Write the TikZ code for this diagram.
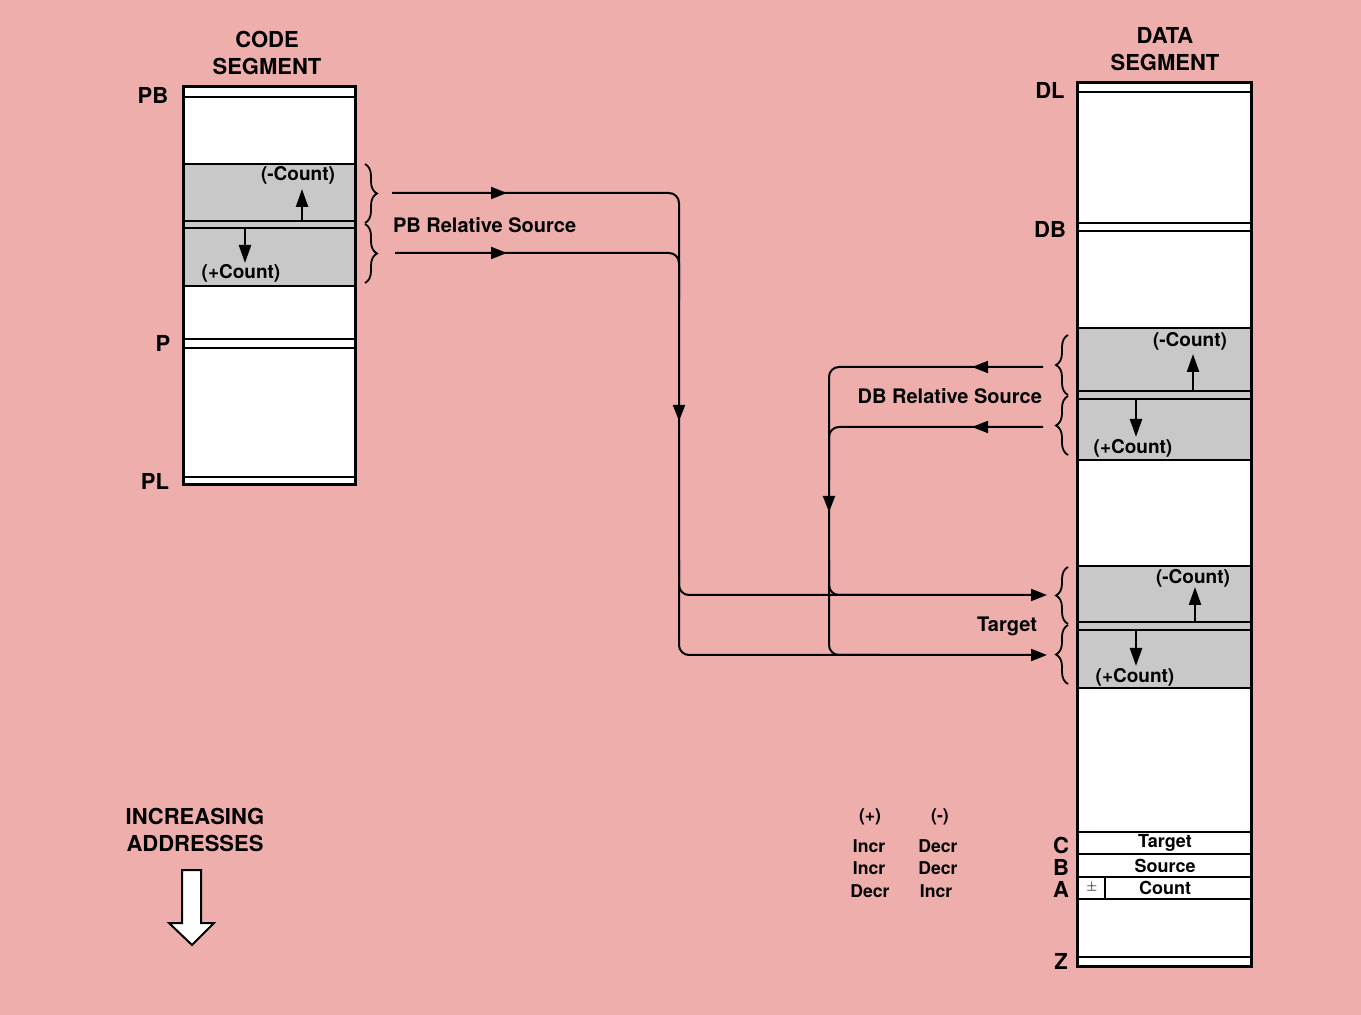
\documentclass[tikz,border=0pt]{standalone}
\usepackage{fontspec}
\setmainfont{TeX Gyre Heros}
\usepackage{tikz}
\usetikzlibrary{arrows.meta,decorations.pathreplacing}
\definecolor{pagepink}{RGB}{238,175,172}
\definecolor{areagray}{RGB}{200,200,200}

\begin{document}
\begin{tikzpicture}[x=0.5pt,y=-0.5pt,>=Triangle,
  segbox/.style={draw,line width=1.5pt,fill=white},
  sepline/.style={line width=0.9pt},
  flow/.style={line width=1pt,rounded corners=5pt},
  tip/.style={-{Triangle[length=8pt,width=6pt]}},
  smalltip/.style={line width=1.2pt,-{Triangle[length=9pt,width=6pt]}},
  brc/.style={decorate,decoration={brace,amplitude=6pt},line width=0.9pt},
  head/.style={font=\bfseries\fontsize{11}{13.5}\selectfont,align=center},
  addr/.style={font=\bfseries\fontsize{11}{13}\selectfont},
  note/.style={font=\bfseries\fontsize{10}{12}\selectfont},
  cnt/.style={font=\bfseries\fontsize{9.5}{11}\selectfont},
  tbl/.style={font=\bfseries\fontsize{8.8}{10}\selectfont},
  row/.style={font=\bfseries\fontsize{9}{10}\selectfont}]
\useasboundingbox (0,0) rectangle (1361,1015);
\fill[pagepink] (0,0) rectangle (1361,1015);

% code segment
\node[head] (codehead) at (267,53) {CODE\\SEGMENT};
\draw[segbox] (183,87) rectangle (355,485);
\fill[areagray] (183,164) rectangle (355,286);
\foreach \y in {97,164,221,228,286,339,348,477}
  \draw[sepline] (183,\y) -- (355,\y);
\draw[segbox,fill=none] (183,87) rectangle (355,485);
\node[addr] (pb) at (153,95) {PB};
\node[addr] (p) at (163,343) {P};
\node[addr] (pl) at (155,481) {PL};
\draw[smalltip] (302,221) -- (302,189);
\draw[smalltip] (245,228) -- (245,263);
\node[cnt] (pbminus) at (298,175) {(-Count)};
\node[cnt] (pbplus) at (241,273) {(+Count)};
\draw[brc] (365,164) -- (365,223);
\draw[brc] (365,224) -- (365,283);

% data segment
\node[head] (datahead) at (1165,49) {DATA\\SEGMENT};
\draw[segbox] (1077,83) rectangle (1251,966);
\fill[areagray] (1077,328) rectangle (1251,460);
\fill[areagray] (1077,566) rectangle (1251,688);
\foreach \y in {92,223,231,328,391,399,460,566,622,630,688,832,854,877,899,957}
  \draw[sepline] (1077,\y) -- (1251,\y);
\draw[sepline] (1105,877) -- (1105,899);
\draw[segbox,fill=none] (1077,83) rectangle (1251,966);
\node[addr] (dl) at (1050,90) {DL};
\node[addr] (db) at (1050,229) {DB};
\node[addr] (regc) at (1061,845) {C};
\node[addr] (regb) at (1061,867) {B};
\node[addr] (rega) at (1061,889) {A};
\node[addr] (regz) at (1061,961) {Z};
\node[row] (ctarget) at (1165,843) {Target};
\node[row] (bsource) at (1165,866) {Source};
\node[row] (acount) at (1165,888) {Count};
\node[font=\fontsize{6}{7}\selectfont] (asign) at (1092,888) {$\pm$};

\draw[smalltip] (1193,391) -- (1193,354);
\draw[smalltip] (1136,399) -- (1136,437);
\node[cnt] (dbminus) at (1190,341) {(-Count)};
\node[cnt] (dbplus) at (1133,448) {(+Count)};
\draw[smalltip] (1195,622) -- (1195,587);
\draw[smalltip] (1136,630) -- (1136,666);
\node[cnt] (tgminus) at (1193,578) {(-Count)};
\node[cnt] (tgplus) at (1135,677) {(+Count)};
\draw[brc] (1068,395) -- (1068,335);
\draw[brc] (1068,455) -- (1068,396);
\draw[brc] (1068,624) -- (1068,567);
\draw[brc] (1068,684) -- (1068,625);

% flow lines
\coordinate (pbsrc1) at (392,193);
\coordinate (pbsrc2) at (395,253);
\coordinate (dbsrc1) at (1043,367);
\coordinate (dbsrc2) at (1043,427);
\coordinate (tgt1) at (1047,595);
\coordinate (tgt2) at (1047,655);
\node[note,anchor=west] (pbrel) at (386,225) {PB Relative Source};
\node[note,anchor=east] (dbrel) at (1049,396) {DB Relative Source};
\node[note,anchor=east] (tgtlbl) at (1044,626) {Target};

\draw[flow,tip] (pbsrc1) -- (679,193) -- (679,655) -- (tgt2);
\draw[flow] (pbsrc2) -- (679,253) -- (679,300);
\draw[flow,tip] (679,560) -- (679,595) -- (tgt1);
\draw[flow] (dbsrc1) -- (829,367) -- (829,655) -- (880,655);
\draw[flow] (dbsrc2) -- (829,427) -- (829,480);
\draw[flow] (829,560) -- (829,595) -- (880,595);
\draw[flow,tip] (pbsrc1) -- (507,193);
\draw[flow,tip] (pbsrc2) -- (507,253);
\draw[flow,tip] (dbsrc1) -- (972,367);
\draw[flow,tip] (dbsrc2) -- (972,427);
\draw[flow,tip] (679,380) -- (679,421);
\draw[flow,tip] (829,470) -- (829,512);

% direction table
\node[tbl] (colplus) at (870,817) {(+)};
\node[tbl] (colminus) at (940,817) {(-)};
\node[tbl] (t1) at (869,846) {Incr};
\node[tbl] (t2) at (938,846) {Decr};
\node[tbl] (t3) at (869,868) {Incr};
\node[tbl] (t4) at (938,868) {Decr};
\node[tbl] (t5) at (870,891) {Decr};
\node[tbl] (t6) at (936,891) {Incr};

% increasing addresses
\node[head] (incaddr) at (195,830) {INCREASING\\ADDRESSES};
\draw[line width=1pt,fill=white] (182,870) -- (201,870) -- (201,923) -- (214,923)
  -- (192,945) -- (169,923) -- (182,923) -- cycle;
\end{tikzpicture}
\end{document}
